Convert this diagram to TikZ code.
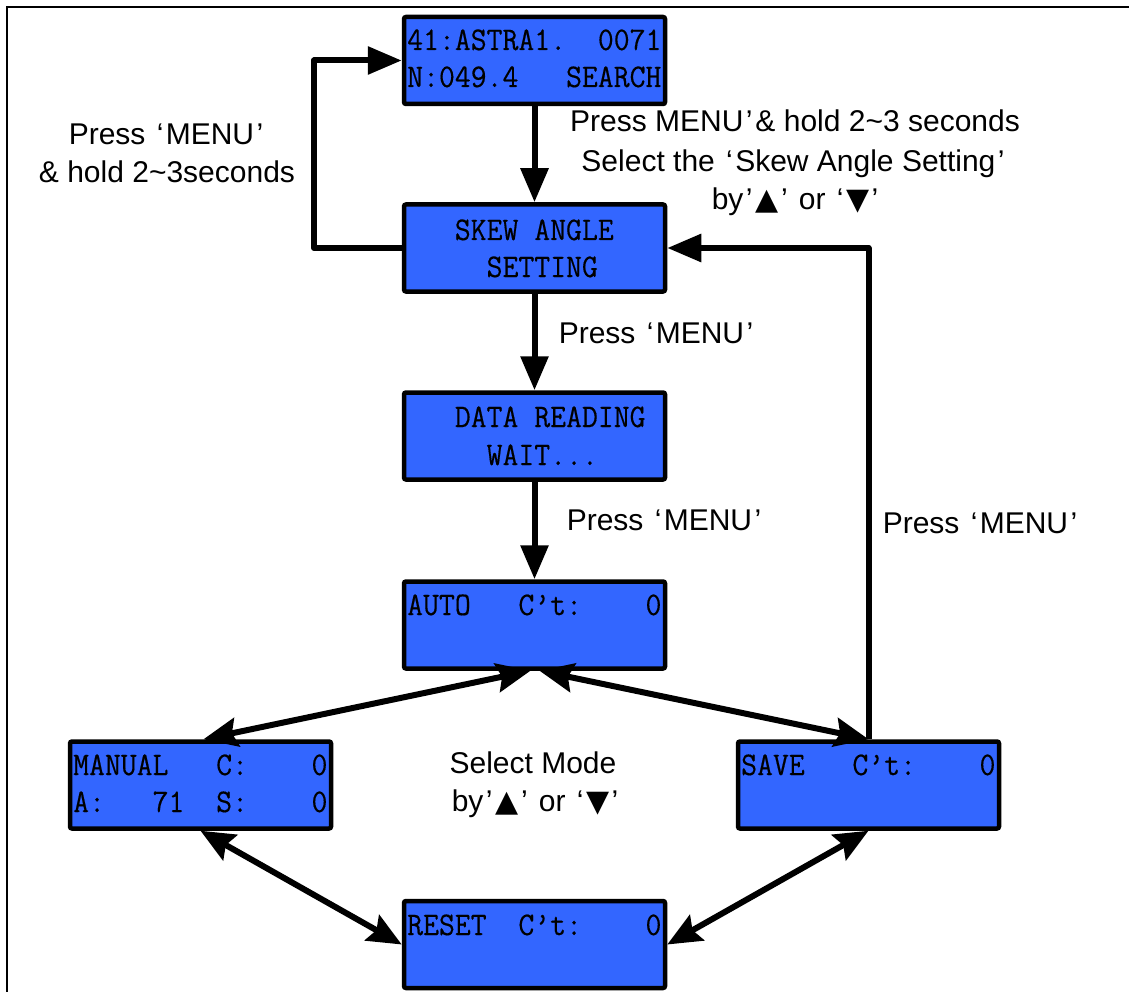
\documentclass[tikz,border=0pt]{standalone}
\usepackage{fontspec}
\setmainfont{Liberation Sans}
\newfontfamily\lcdfont[FakeStretch=0.935,FakeBold=0.4]{Latin Modern Mono}
\newfontfamily\symfont{DejaVu Sans}
\usetikzlibrary{arrows.meta}
\definecolor{lcdblue}{RGB}{51,102,255}
\newcommand\tup{{\symfont ▲}}
\newcommand\tdn{{\symfont ▼}}
\newcommand\qo{\hspace{.1em}‘\hspace{.08em}}
\newcommand\qc{\hspace{.08em}’\hspace{.1em}}
\newcommand\tld{\textasciitilde}

\begin{document}
\begin{tikzpicture}[x=1pt,y=-1pt,
  lcdbox/.style={draw=black, line width=4.5pt, fill=lcdblue, rounded corners=2pt,
    minimum width=261pt, minimum height=87pt, inner sep=0pt},
  lcdline/.style={anchor=base west, inner sep=0pt, font=\lcdfont\fontsize{33}{33}\selectfont},
  note/.style={anchor=base, inner sep=0pt, font=\fontsize{30}{38}\selectfont},
  flow/.style={line width=6pt, line join=round, -{Triangle[length=34pt,width=27pt]}},
  swap/.style={line width=6pt,
    {Stealth[length=34pt,width=29pt,inset=5pt]}-{Stealth[length=34pt,width=29pt,inset=5pt]}},
]
\useasboundingbox (0,0) rectangle (1129,992);

% page frame
\draw[line width=2pt] (7,992) -- (7,7) -- (1129,7);

% LCD screens
\node[lcdbox] (search) at (534.5,60.5) {};
\node[lcdbox] (skew)   at (534.5,248) {};
\node[lcdbox] (data)   at (534.5,436) {};
\node[lcdbox] (auto)   at (534.5,625) {};
\node[lcdbox] (manual) at (200.5,785) {};
\node[lcdbox] (save)   at (868.5,785) {};
\node[lcdbox] (reset)  at (534.5,944.5) {};

% screen contents (16 characters per line)
\node[lcdline] (s1) at (407,50)  {41:ASTRA1.~~0071};
\node[lcdline] (s2) at (407,87)  {N:049.4~~~SEARCH};
\node[lcdline] (k1) at (407,240) {~~~SKEW ANGLE};
\node[lcdline] (k2) at (407,277) {~~~~~SETTING};
\node[lcdline] (d1) at (407,427) {~~~DATA READING};
\node[lcdline] (d2) at (407,465) {~~~~~WAIT...};
\node[lcdline] (a1) at (407,615) {AUTO~~~C’t:~~~~0};
\node[lcdline] (m1) at (73,775)  {MANUAL~~~C:~~~~0};
\node[lcdline] (m2) at (73,812)  {A:~~~71~~S:~~~~0};
\node[lcdline] (v1) at (741,775) {SAVE~~~C’t:~~~~0};
\node[lcdline] (r1) at (407,935) {RESET~~C’t:~~~~0};

% captions
\node[note] (n1a) at (166,145) {Press \qo MENU\qc};
\node[note] (n1b) at (167,183) {\& hold 2\tld3seconds};
\node[note] (n2a) at (795,132) {Press MENU\qc\& hold 2\tld3 seconds};
\node[note] (n2b) at (793,172) {Select the \qo Skew Angle Setting\qc};
\node[note] (n2c) at (795,210) {by\qc\tup\qc{} or \qo\tdn\qc};
\node[note] (n3)  at (656,343) {Press \qo MENU\qc};
\node[note] (n4)  at (664,530) {Press \qo MENU\qc};
\node[note] (n5)  at (980,533) {Press \qo MENU\qc};
\node[note] (n6a) at (533,773) {Select Mode};
\node[note] (n6b) at (535,811) {by\qc\tup\qc{} or \qo\tdn\qc};

% transitions
\draw[flow] (search) -- (skew);
\draw[flow] (skew) -- (data);
\draw[flow] (data) -- (auto);
\draw[flow] (skew.west) -- (314,248) |- (search.west);
\draw[flow] (save.north) |- (skew.east);

% mode selection
\draw[swap] ([xshift=-4pt]auto.south) -- ([xshift=3pt]manual.north);
\draw[swap] ([xshift=5pt]auto.south) -- (save.north);
\draw[swap] (manual.south) -- (reset.west);
\draw[swap] (save.south) -- (reset.east);
\end{tikzpicture}
\end{document}
